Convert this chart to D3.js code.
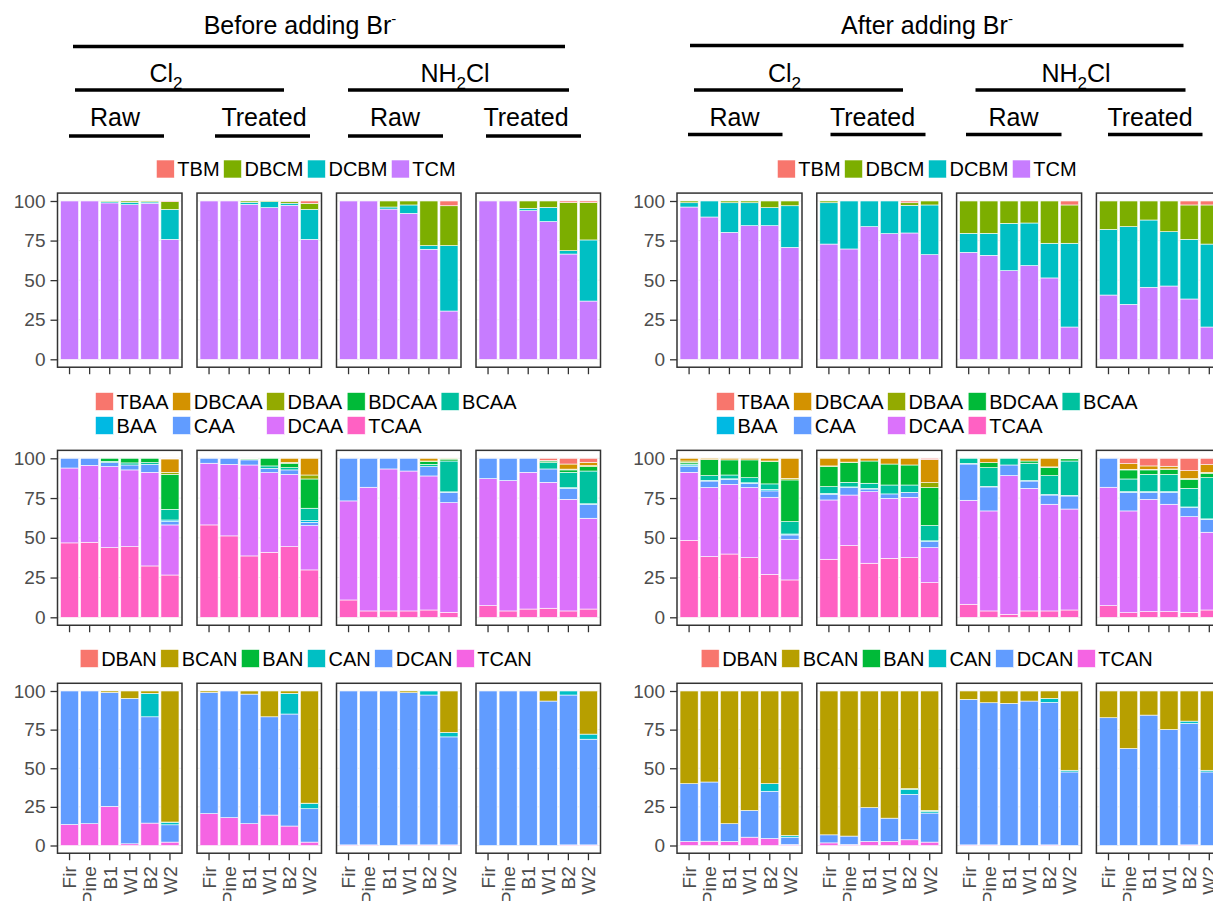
<!DOCTYPE html>
<html>
<head>
<meta charset="utf-8">
<script src="https://cdn.jsdelivr.net/npm/d3@7"></script>
<style>
  body { margin: 0; background: #fff; overflow: hidden; }
  svg { display: block; font-family: "Liberation Sans", Arial, sans-serif; }
</style>
</head>
<body>
<svg id="chart" width="1213" height="901"></svg>
<script>
  // ---- data: percentages of each species, per site, per panel ----
  const sites = ["Fir", "Pine", "B1", "W1", "B2", "W2"];
  const panelNames = ["Cl2 Raw", "Cl2 Treated", "NH2Cl Raw", "NH2Cl Treated"];
  const yTicks = [0, 25, 50, 75, 100];

  // species listed in stacking order (bottom first); legend shows them reversed
  const thmKeys = ["TCM", "DCBM", "DBCM", "TBM"];
  const thmColors = ["#C77CFF", "#00BFC4", "#7CAE00", "#F8766D"];
  const haaKeys = ["TCAA", "DCAA", "CAA", "BAA", "BCAA", "BDCAA", "DBAA", "DBCAA", "TBAA"];
  const haaColors = ["#FF61C3", "#DB72FB", "#619CFF", "#00B9E3", "#00C19F", "#00BA38", "#93AA00", "#D39200", "#F8766D"];
  const hanKeys = ["TCAN", "DCAN", "CAN", "BAN", "BCAN", "DBAN"];
  const hanColors = ["#F564E3", "#619CFF", "#00BFC4", "#00BA38", "#B79F00", "#F8766D"];

  // one entry per panel, each holding one list per site (missing values = 0)
  const thmBefore = [
    [[100], [100], [98.8, 0.8, 0.4], [97.7, 1.5, 0.8], [98.6, 0.8, 0.6], [75.8, 18.9, 4.9, 0.4]],
    [[100], [100], [97.9, 1.3, 0.8], [95.8, 3.8, 0.4], [97.3, 1.3, 1.2, 0.2], [75.8, 18.9, 3.8, 1.5]],
    [[100], [100], [94.9, 1.3, 3.8], [92.2, 5.3, 2.5], [69.5, 2.3, 28.2], [30.5, 41.3, 25.2, 3]],
    [[100], [100], [93.9, 1.5, 4.6], [87, 9, 4], [66.5, 2.1, 30.4, 1], [36.8, 38.6, 23.6, 1]]
  ];
  const thmAfter = [
    [[96.2, 2.7, 1.1], [89.9, 10.1], [80.2, 18.7, 1.1], [84.4, 14.5, 1.1], [84.4, 11.4, 4.2], [70.7, 26.3, 3]],
    [[72.8, 26.1, 1.1], [69.7, 30.3], [83.8, 16.2], [79.4, 20.6], [79.8, 17.5, 1.6, 1.1], [66.1, 31.4, 2.5]],
    [[67.6, 12, 20.4], [65.7, 13.9, 20.4], [56, 29.9, 14.1], [59.2, 26.9, 13.9], [51.4, 21.9, 26.7], [20.4, 52.9, 24.2, 2.5]],
    [[40.6, 41.5, 17.9], [34.7, 49.1, 16.2], [45.5, 42.5, 12], [46.3, 34.3, 19.4], [38.1, 37.7, 21.7, 2.5], [20.4, 52.4, 24.7, 2.5]]
  ];
  const haaBefore = [
    [[46.8, 47.1, 6.1], [47.2, 48.4, 4.4], [43.8, 51, 2.5, 0, 0.8, 1.9], [44.4, 48.3, 3.1, 0, 1.3, 2.9], [32.3, 58.9, 5, 0, 1.1, 2.7], [26.6, 31.5, 2.1, 1, 6.7, 22, 1.3, 8.4, 0.4]],
    [[58.1, 38.8, 3.1], [51.2, 45, 3.8], [38.6, 57.2, 3.2, 0, 0, 0.6, 0.4], [40.9, 50.1, 2.7, 0, 1.5, 4.8], [44.4, 45.5, 2.8, 0, 1.4, 2.8, 0.5, 2.6], [29.8, 27.9, 2, 1.1, 7.8, 18.4, 2.5, 10.5]],
    [[10.9, 62.3, 26.8], [4, 77.8, 18.2], [4, 89.3, 6.7], [4, 88, 8], [4.6, 84.3, 5.9, 0, 1.4, 1.7, 0.4, 1.7], [3.1, 69, 6.5, 0.3, 19.4, 1.2, 0.5]],
    [[7.3, 79.9, 12.8], [4, 82, 14], [5.2, 86, 8.8], [5.7, 79.2, 8.4, 0, 4, 1, 0.3, 0, 1.4], [4, 70.2, 6.9, 0.4, 9.7, 1.5, 0.5, 3.2, 3.6], [5.2, 57.1, 8.8, 0.3, 20.6, 2.8, 0.6, 2.1, 2.5]]
  ];
  const haaAfter = [
    [[48.4, 42.8, 3.6, 1, 0.6, 1.1, 0.8, 1.7], [38.2, 43.4, 4.1, 0.4, 3, 10.1, 0, 0.8], [39.8, 43.8, 3.2, 0.3, 2.4, 9.5, 0, 1], [37.5, 44.1, 2.7, 0.3, 3.2, 11.2, 0, 1], [27, 48.5, 4, 1, 3.4, 14, 0.4, 1.7], [23.5, 25.6, 2.7, 0.6, 7.8, 26.2, 1, 12.6]],
    [[36.5, 37.3, 3.6, 0.5, 4.3, 12.6, 0.4, 4.8], [45.1, 31.8, 4.7, 0.4, 2.9, 12.4, 0.3, 2.4], [34, 45, 1.7, 0.3, 3.3, 14, 0, 1.7], [37.1, 37.7, 2.8, 0, 5.6, 13.2, 0, 3.6], [37.5, 38, 3.1, 0, 4.6, 12.6, 0, 4.2], [21.8, 22, 3.8, 0.5, 9.6, 23.9, 3.1, 14.5, 0.8]],
    [[8.2, 65.4, 22.8, 0.4, 3.2], [4, 62.9, 15.1, 0.3, 11.8, 3.2, 0, 2.7], [1.9, 87.2, 6.7, 0, 4.2], [4, 77.1, 4.6, 0.3, 10.9, 1.4, 0, 1.7], [4, 67.1, 5.8, 0.3, 11.9, 5.2, 0.3, 5.4], [4.6, 63.5, 8.2, 0.4, 21.6, 1.4, 0.3]],
    [[7.3, 74.5, 18.2], [2.9, 64, 11.7, 0.4, 8, 5.7, 0.4, 3.5, 3.4], [3.6, 70.6, 4.4, 0.4, 10.9, 2.8, 0.4, 2.1, 4.8], [3.6, 67.5, 7.5, 0.4, 10.9, 3, 0.4, 1.7, 5], [3.1, 60.2, 5.7, 0.4, 11.7, 5.7, 0.5, 4.9, 7.8], [4.6, 48.9, 8.1, 0.3, 25.9, 2.8, 0.5, 4.9, 4]]
  ];
  const hanBefore = [
    [[13.6, 86.4], [14.1, 85.9], [25.3, 73.8, 0, 0, 0.9], [1.1, 94.1, 0, 0, 4.8], [14.5, 68.8, 15.2, 0, 1.5], [2.2, 11.2, 1.5, 0.3, 84.8]],
    [[20.6, 78.5, 0, 0, 0.9], [18, 82], [14.1, 83.9, 0, 0, 2], [19.7, 63.6, 0, 0, 16.7], [12.6, 72.5, 13.4, 0, 1.5], [2.2, 21.6, 3.3, 0.3, 72.6]],
    [[0.4, 99.6], [0.4, 99.6], [0, 100], [0.4, 98.5, 0, 0, 1.1], [0.4, 97, 2.6], [0.4, 69.9, 2.9, 0, 26.8]],
    [[0, 100], [0, 100], [0, 100], [0, 93.5, 0, 0, 6.5], [0.4, 97, 2.6], [0.4, 68.4, 3.3, 0, 27.9]]
  ];
  const hanAfter = [
    [[2.6, 37.4, 0, 0, 60], [2.8, 38.3, 0, 0, 58.9], [2.6, 11.5, 0, 0, 85.9], [5.4, 17.3, 0, 0, 77.3], [4.5, 30.6, 4.9, 0, 60], [0.6, 4.8, 1.1, 0, 93.5]],
    [[1.7, 5.2, 0, 0, 93.1], [0.6, 5.5, 0, 0, 93.9], [2.6, 21.9, 0, 0, 75.5], [2.6, 15.1, 0, 0, 82.3], [3.7, 29.4, 3.3, 0.4, 63.2], [2.2, 18.8, 1.1, 0.6, 77.3]],
    [[0.4, 94.2, 0, 0, 5.4], [0.4, 92, 0, 0, 7.6], [0, 92, 0, 0, 8], [0, 93.5, 0, 0, 6.5], [0.4, 92.2, 2.6, 0, 4.8], [0, 47.6, 1.1, 0, 51.3]],
    [[0, 82.7, 0, 0, 17.3], [0, 62.8, 0, 0, 37.2], [0, 84.4, 0, 0, 15.6], [0, 75.1, 0, 0, 24.9], [0.4, 78.6, 1.5, 0, 19.5], [0, 47.6, 1.1, 0, 51.3]]
  ];

  // ---- layout ----
  const svg = d3.select("#chart");
  const fontSize = { header: 25, axis: 19, legend: 20 };

  const groups = [
    {
      title: "Before adding Br", titleX: 300, titleLine: [73, 565, 46.5],
      oxid: [{ pre: "Cl", post: "", x: 166, line: [75, 284] }, { pre: "NH", post: "Cl", x: 455, line: [348, 569] }],
      oxLineY: 90,
      water: [{ x: 115, line: [69, 164] }, { x: 264, line: [215, 310] }, { x: 395, line: [348, 443] }, { x: 526, line: [486, 581] }],
      waterLineY: 136,
      x0: 57.5, step: 139.5, pw: 124.5, legendCx: 306,
      data: [thmBefore, haaBefore, hanBefore]
    },
    {
      title: "After adding Br", titleX: 927, titleLine: [690, 1183.5, 45.5],
      oxid: [{ pre: "Cl", post: "", x: 784.5, line: [694, 903] }, { pre: "NH", post: "Cl", x: 1076, line: [975.5, 1185.5] }],
      oxLineY: 90,
      water: [{ x: 734.5, line: [688, 782.5] }, { x: 872.5, line: [830.5, 925.5] }, { x: 1013.5, line: [966, 1061.5] }, { x: 1150, line: [1108, 1202.5] }],
      waterLineY: 134.5,
      x0: 677, step: 139.8, pw: 125, legendCx: 927,
      data: [thmAfter, haaAfter, hanAfter]
    }
  ];

  const rows = [
    { keys: thmKeys, colors: thmColors, y100: 201, y0: 359.3, legendY: 169, ncol: 4, labels: false },
    { keys: haaKeys, colors: haaColors, y100: 458.3, y0: 617.3, legendY: 401.5, ncol: 5, labels: false },
    { keys: hanKeys, colors: hanColors, y100: 691, y0: 845.5, legendY: 658.5, ncol: 6, labels: true }
  ];

  function textWidth(str, size) {
    const t = svg.append("text").style("font-size", size + "px").text(str);
    const w = t.node().getComputedTextLength();
    t.remove();
    return w;
  }

  // header with titles and black rules
  function drawHeader(g) {
    const h = svg.append("g").attr("class", "header").style("font-size", fontSize.header + "px");

    const t = h.append("text").attr("x", g.titleX).attr("y", 34).attr("text-anchor", "middle").text(g.title);
    t.append("tspan").attr("dy", -10).style("font-size", "15px").text("-");

    const rule = (x1, x2, y) => h.append("line")
      .attr("x1", x1).attr("x2", x2).attr("y1", y).attr("y2", y)
      .attr("stroke", "#000").attr("stroke-width", 3.5);

    rule(g.titleLine[0], g.titleLine[1], g.titleLine[2]);

    g.oxid.forEach(o => {
      const ot = h.append("text").attr("x", o.x).attr("y", 82).attr("text-anchor", "middle").text(o.pre);
      ot.append("tspan").attr("dy", 7).style("font-size", "17px").text("2");
      if (o.post) ot.append("tspan").attr("dy", -7).text(o.post);
      rule(o.line[0], o.line[1], g.oxLineY);
    });

    g.water.forEach((w, i) => {
      h.append("text").attr("x", w.x).attr("y", 126).attr("text-anchor", "middle")
        .text(i % 2 === 0 ? "Raw" : "Treated");
      rule(w.line[0], w.line[1], g.waterLineY);
    });
  }

  // legend, filled row by row like ggplot
  function drawLegend(row, cx) {
    const items = row.keys.map((k, i) => ({ key: k, color: row.colors[i] })).reverse();
    const keySize = 18, textGap = 3, itemGap = 4, rowH = 24;
    const colW = d3.range(row.ncol).map(c =>
      d3.max(items.filter((d, i) => i % row.ncol === c), d => textWidth(d.key, fontSize.legend)));
    const colX = [];
    let acc = 0;
    colW.forEach(w => { colX.push(acc); acc += keySize + textGap + w + itemGap; });
    const left = cx - (acc - itemGap) / 2;

    const lg = svg.append("g").attr("class", "legend").style("font-size", fontSize.legend + "px");
    const it = lg.selectAll("g").data(items).join("g")
      .attr("transform", (d, i) => `translate(${left + colX[i % row.ncol]},${row.legendY + Math.floor(i / row.ncol) * rowH})`);
    it.append("rect")
      .attr("x", 0).attr("y", -keySize / 2).attr("width", keySize).attr("height", keySize)
      .attr("fill", d => d.color).attr("stroke", "#fff").attr("stroke-width", 0.6);
    it.append("text")
      .attr("x", keySize + textGap).attr("dy", "0.36em").attr("fill", "#000")
      .text(d => d.key);
  }

  function drawPanel(g, row, panelData, p) {
    const px = g.x0 + p * g.step;
    const x = d3.scaleBand().domain(sites).range([px, px + g.pw]).paddingInner(0.1).paddingOuter(0.15);
    const y = d3.scaleLinear().domain([0, 100]).range([row.y0, row.y100]);
    const top = y(105), bottom = y(-5);

    const pg = svg.append("g").attr("class", "panel");

    pg.append("rect").attr("x", px).attr("y", top).attr("width", g.pw).attr("height", bottom - top).attr("fill", "#fff");

    pg.append("g").selectAll("line").data(yTicks).join("line")
      .attr("x1", px).attr("x2", px + g.pw).attr("y1", d => y(d)).attr("y2", d => y(d))
      .attr("stroke", "#ebebeb").attr("stroke-width", 0.8);

    const records = panelData.map((vals, i) => {
      const r = { site: sites[i] };
      row.keys.forEach((k, j) => { r[k] = vals[j] || 0; });
      return r;
    });
    const series = d3.stack().keys(row.keys)(records);

    pg.append("g").selectAll("g").data(series).join("g")
      .attr("fill", (s, i) => row.colors[i])
      .selectAll("rect").data(s => s.filter(d => d[1] - d[0] > 0)).join("rect")
        .attr("x", d => x(d.data.site))
        .attr("width", x.bandwidth())
        .attr("y", d => y(d[1]))
        .attr("height", d => y(d[0]) - y(d[1]))
        .attr("stroke", "#fff").attr("stroke-width", 0.6);

    pg.append("rect").attr("x", px).attr("y", top).attr("width", g.pw).attr("height", bottom - top)
      .attr("fill", "none").attr("stroke", "#333").attr("stroke-width", 1.5);

    // x axis
    const xa = pg.append("g").attr("transform", `translate(0,${bottom})`)
      .call(d3.axisBottom(x).tickSize(7).tickFormat(row.labels ? d => d : () => ""));
    xa.select(".domain").remove();
    xa.selectAll(".tick line").attr("stroke", "#333").attr("stroke-width", 1.3);
    xa.selectAll(".tick text")
      .attr("transform", "rotate(-90)")
      .attr("x", -13).attr("y", 0).attr("dy", "0.36em")
      .attr("text-anchor", "end")
      .attr("fill", "#4d4d4d")
      .style("font-size", fontSize.axis + "px")
      .style("font-family", "inherit");

    // y axis only on the first panel of each group
    if (p === 0) {
      const ya = pg.append("g").attr("transform", `translate(${px},0)`)
        .call(d3.axisLeft(y).tickValues(yTicks).tickSize(7).tickPadding(5));
      ya.select(".domain").remove();
      ya.selectAll(".tick line").attr("stroke", "#333").attr("stroke-width", 1.3);
      ya.selectAll(".tick text")
        .attr("fill", "#4d4d4d")
        .style("font-size", fontSize.axis + "px")
        .style("font-family", "inherit");
    }
  }

  groups.forEach(g => {
    drawHeader(g);
    rows.forEach((row, r) => {
      drawLegend(row, g.legendCx);
      panelNames.forEach((name, p) => drawPanel(g, row, g.data[r][p], p));
    });
  });
</script>
</body>
</html>
